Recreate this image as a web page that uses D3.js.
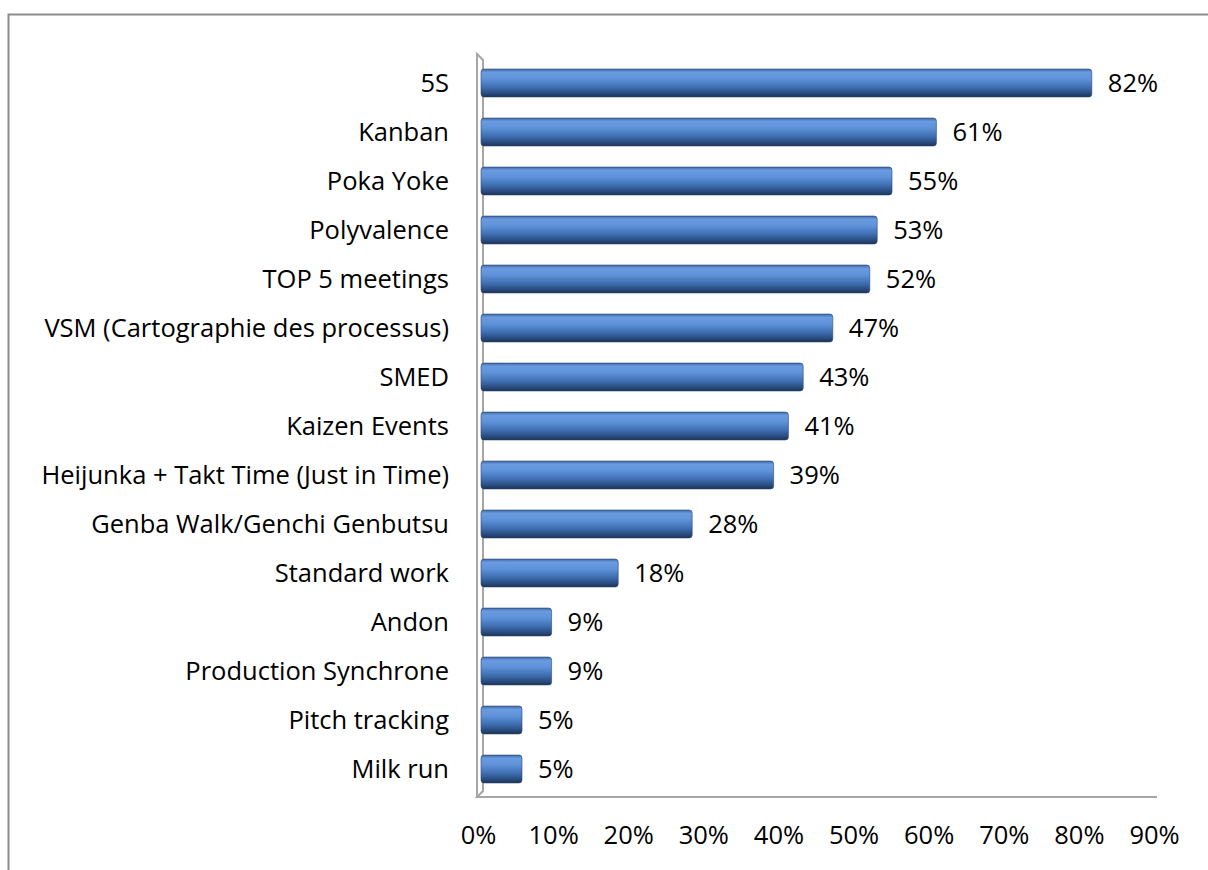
<!DOCTYPE html>
<html>
<head>
<meta charset="utf-8">
<script src="https://cdn.jsdelivr.net/npm/d3@7"></script>
<style>
  html, body { margin: 0; padding: 0; background: #fff; }
  svg { display: block; }
  text { font-family: "Open Sans", "Noto Sans", sans-serif; fill: #000; }
</style>
</head>
<body>
<svg id="chart" width="1208" height="870"></svg>
<script>
// Lean tools in use (share of respondents)
const categories = [
  "5S", "Kanban", "Poka Yoke", "Polyvalence", "TOP 5 meetings",
  "VSM (Cartographie des processus)", "SMED", "Kaizen Events",
  "Heijunka + Takt Time (Just in Time)", "Genba Walk/Genchi Genbutsu",
  "Standard work", "Andon", "Production Synchrone", "Pitch tracking", "Milk run"
];
const values = [0.82, 0.61, 0.55, 0.53, 0.52, 0.47, 0.43, 0.41, 0.39, 0.28, 0.18, 0.09, 0.09, 0.05, 0.05];
const tickValues = [0, 0.1, 0.2, 0.3, 0.4, 0.5, 0.6, 0.7, 0.8, 0.9];

const FONT_SIZE = 25.5;
const svg = d3.select("#chart");
const fmt = d3.format(".0%");

// Outer chart frame
svg.append("rect")
  .attr("x", 8.5).attr("y", 14.5)
  .attr("width", 1300).attr("height", 1000)
  .attr("fill", "none").attr("stroke", "#8c8c8c").attr("stroke-width", 2);

// Front (floor) scale for tick labels, and the slightly deeper scale the bars sit on
const x = d3.scaleLinear().domain([0, 0.9]).range([478, 1154]);
const xBar = d3.scaleLinear().domain([0, 0.9]).range([485, 1151]);
const y = d3.scaleBand().domain(categories).range([58.5, 793.5]).paddingInner(0.43).paddingOuter(0.215);

// Cylinder-like shading for bars
const defs = svg.append("defs");
const grad = defs.append("linearGradient").attr("id", "barGrad")
  .attr("x1", 0).attr("y1", 0).attr("x2", 0).attr("y2", 1);
[["0%", "#3f6aa6"], ["12%", "#6a9be0"], ["35%", "#5f92da"], ["65%", "#3f6fb2"], ["88%", "#284a7c"], ["100%", "#1c3356"]]
  .forEach(([o, c]) => grad.append("stop").attr("offset", o).attr("stop-color", c));

// 3D wall and floor
const g = svg.append("g");
g.append("path")
  .attr("d", "M477,797 L477,54 L483,60 L483,791 L477,797 L1157,797")
  .attr("fill", "none").attr("stroke", "#a6a6a6").attr("stroke-width", 2);

const BAR_START = 481;

// Bars
g.selectAll("rect.bar").data(values).join("rect")
  .attr("class", "bar")
  .attr("x", BAR_START)
  .attr("y", (d, i) => y(categories[i]))
  .attr("width", d => xBar(d) - BAR_START)
  .attr("height", y.bandwidth())
  .attr("rx", 3).attr("ry", 3)
  .attr("fill", "url(#barGrad)")
  .attr("stroke", "#2a4670").attr("stroke-width", 0.6);

// Value labels
g.selectAll("text.val").data(values).join("text")
  .attr("class", "val")
  .attr("x", d => xBar(d) + 16)
  .attr("y", (d, i) => y(categories[i]) + y.bandwidth() / 2)
  .attr("dy", "0.36em")
  .attr("font-size", FONT_SIZE)
  .text(d => fmt(d));

// Category labels
g.selectAll("text.cat").data(categories).join("text")
  .attr("class", "cat")
  .attr("x", 449)
  .attr("y", d => y(d) + y.bandwidth() / 2)
  .attr("dy", "0.36em")
  .attr("text-anchor", "end")
  .attr("font-size", FONT_SIZE)
  .text(d => d);

// X axis tick labels
const xAxis = d3.axisBottom(x).tickValues(tickValues).tickFormat(fmt).tickSize(0).tickPadding(0);
const ax = svg.append("g").attr("transform", "translate(0,844)").call(xAxis);
ax.select(".domain").remove();
ax.selectAll("text")
  .attr("y", 0)
  .attr("dy", 0)
  .attr("font-size", FONT_SIZE)
  .style("font-family", '"Open Sans", "Noto Sans", sans-serif')
  .attr("fill", "#000");
</script>
</body>
</html>
